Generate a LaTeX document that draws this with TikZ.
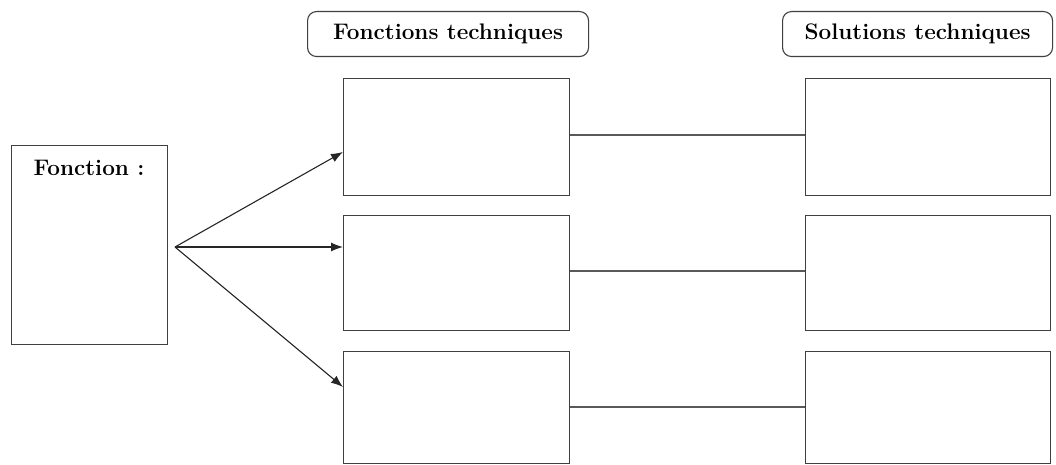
\documentclass[tikz,border=0pt]{standalone}
\usepackage{fontspec}
\setmainfont{Latin Modern Roman}
\usetikzlibrary{arrows.meta}
\begin{document}
\begin{tikzpicture}[x=1pt,y=-1pt,
  box/.style={draw=black!75,line width=1.1pt,rectangle,inner sep=0pt,anchor=north west},
  head/.style={draw=black!75,line width=1.1pt,rounded corners=9pt,inner sep=0pt,anchor=north west,font=\fontsize{22.5}{24}\selectfont\bfseries},
  arr/.style={line width=1.1pt,draw=black!85,-{Latex[length=12pt,width=9pt]}},
  link/.style={line width=1.1pt,draw=black!65}]
\useasboundingbox (0,0) rectangle (1056,465);
% headers
\node[head,minimum width=281pt,minimum height=45pt] (h1) at (307,11) {Fonctions techniques};
\node[head,minimum width=270pt,minimum height=45pt] (h2) at (782,11) {Solutions techniques};
% function box
\node[box,minimum width=156pt,minimum height=199pt] (f) at (11,145) {};
\node[font=\fontsize{22.5}{24}\selectfont\bfseries] (ft) at (89,168) {Fonction :};
\coordinate (o) at (175,247);
% middle boxes
\node[box,minimum width=226pt,minimum height=117pt] (m1) at (343,78) {};
\node[box,minimum width=226pt,minimum height=115pt] (m2) at (343,215) {};
\node[box,minimum width=226pt,minimum height=112pt] (m3) at (343,351) {};
% right boxes
\node[box,minimum width=245pt,minimum height=117pt] (r1) at (805,78) {};
\node[box,minimum width=245pt,minimum height=115pt] (r2) at (805,215) {};
\node[box,minimum width=245pt,minimum height=112pt] (r3) at (805,351) {};
% arrows
\draw[arr] (o) -- (m1.west |- 0,152);
\draw[arr] (o) -- (m2.west |- o);
\draw[arr] (o) -- (m3.west |- 0,387);
% links
\draw[link] (m1.east |- 0,135) -- (r1.west |- 0,135);
\draw[link] (m2.east |- 0,271) -- (r2.west |- 0,271);
\draw[link] (m3.east |- 0,407) -- (r3.west |- 0,407);
\end{tikzpicture}
\end{document}
